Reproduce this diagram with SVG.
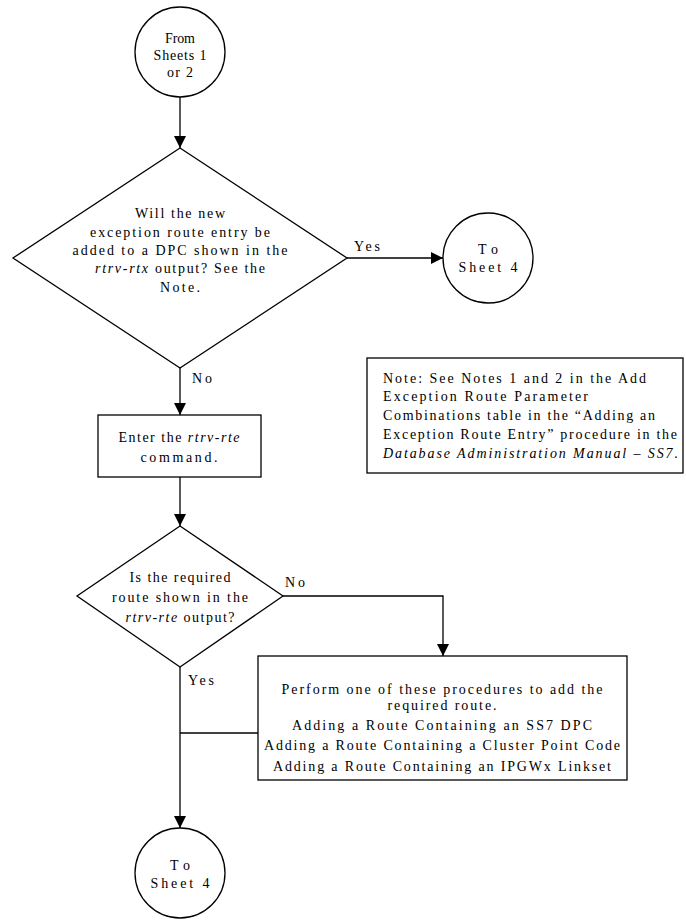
<svg xmlns="http://www.w3.org/2000/svg" width="686" height="920" viewBox="0 0 686 920">
<style>
.s{fill:#fff;stroke:#000;stroke-width:1.3}
.c{fill:none;stroke:#000;stroke-width:1.3}
text{font-family:"Liberation Serif","Times New Roman",serif;font-size:14px;fill:#000}
.m{text-anchor:middle}
.i{font-style:italic}
</style>
<defs>
<marker id="a" markerWidth="12" markerHeight="12" viewBox="0 0 12 12" refX="12" refY="6" orient="auto" markerUnits="userSpaceOnUse">
<path d="M0,0 L12,6 L0,12 z" fill="#000"/>
</marker>
</defs>
<rect width="686" height="920" fill="#fff"/>
<g id="connectors">
<line class="c" x1="180" y1="97" x2="180" y2="148" marker-end="url(#a)"/>
<line class="c" x1="347" y1="258" x2="443" y2="258" marker-end="url(#a)"/>
<line class="c" x1="180" y1="368" x2="180" y2="415" marker-end="url(#a)"/>
<line class="c" x1="180" y1="477" x2="180" y2="526" marker-end="url(#a)"/>
<polyline class="c" points="283,596 443,596 443,656" marker-end="url(#a)"/>
<line class="c" x1="180" y1="667" x2="180" y2="828" marker-end="url(#a)"/>
<line class="c" x1="180" y1="733" x2="258" y2="733"/>
<text x="354" y="251" textLength="26" lengthAdjust="spacing">Yes</text>
<text x="192" y="383" textLength="20" lengthAdjust="spacing">No</text>
<text x="285" y="587" textLength="20" lengthAdjust="spacing">No</text>
<text x="188" y="685" textLength="26" lengthAdjust="spacing">Yes</text>
</g>
<g id="start">
<circle class="s" cx="180" cy="52" r="45"/>
<text class="m" x="180" y="43" textLength="30" lengthAdjust="spacing">From</text>
<text class="m" x="180" y="60" textLength="53" lengthAdjust="spacing">Sheets 1</text>
<text class="m" x="180" y="77" textLength="26" lengthAdjust="spacing">or 2</text>
</g>
<g id="decision1">
<polygon class="s" points="180,148 347,258 180,368 13,258"/>
<text class="m" x="180" y="218" textLength="90" lengthAdjust="spacing">Will the new</text>
<text class="m" x="180" y="237" textLength="180" lengthAdjust="spacing">exception route entry be</text>
<text class="m" x="180" y="255" textLength="215" lengthAdjust="spacing">added to a DPC shown in the</text>
<text class="m" x="180" y="273" textLength="170" lengthAdjust="spacing"><tspan class="i">rtrv-rtx</tspan> output? See the</text>
<text class="m" x="180" y="292" textLength="40" lengthAdjust="spacing">Note.</text>
</g>
<g id="sheet4a">
<circle class="s" cx="488" cy="258" r="45"/>
<text class="m" x="488" y="254" textLength="20" lengthAdjust="spacing">To</text>
<text class="m" x="488" y="272" textLength="59" lengthAdjust="spacing">Sheet 4</text>
</g>
<g id="note">
<rect class="s" x="367" y="358" width="316" height="115"/>
<text x="383" y="383" textLength="263" lengthAdjust="spacing">Note: See Notes 1 and 2 in the Add</text>
<text x="383" y="401" textLength="205" lengthAdjust="spacing">Exception Route Parameter</text>
<text x="383" y="420" textLength="272" lengthAdjust="spacing">Combinations table in the “Adding an</text>
<text x="383" y="439" textLength="294" lengthAdjust="spacing">Exception Route Entry” procedure in the</text>
<text x="383" y="458" class="i" textLength="295" lengthAdjust="spacing">Database Administration Manual – SS7.</text>
</g>
<g id="enter">
<rect class="s" x="98" y="415" width="163" height="62"/>
<text class="m" x="179" y="442" textLength="121" lengthAdjust="spacing">Enter the <tspan class="i">rtrv-rte</tspan></text>
<text class="m" x="179" y="462" textLength="77" lengthAdjust="spacing">command.</text>
</g>
<g id="decision2">
<polygon class="s" points="180,526 283,596 180,667 77,596"/>
<text class="m" x="180" y="582" textLength="101" lengthAdjust="spacing">Is the required</text>
<text class="m" x="180" y="602" textLength="136" lengthAdjust="spacing">route shown in the</text>
<text class="m" x="180" y="622" textLength="109" lengthAdjust="spacing"><tspan class="i">rtrv-rte</tspan> output?</text>
</g>
<g id="perform">
<rect class="s" x="258" y="656" width="369" height="124"/>
<text class="m" x="442" y="694" textLength="321" lengthAdjust="spacing">Perform one of these procedures to add the</text>
<text class="m" x="442" y="710" textLength="109" lengthAdjust="spacing">required route.</text>
<text class="m" x="442" y="730" textLength="300" lengthAdjust="spacing">Adding a Route Containing an SS7 DPC</text>
<text class="m" x="442" y="750" textLength="356" lengthAdjust="spacing">Adding a Route Containing a Cluster Point Code</text>
<text class="m" x="442" y="771" textLength="338" lengthAdjust="spacing">Adding a Route Containing an IPGWx Linkset</text>
</g>
<g id="sheet4b">
<circle class="s" cx="180" cy="873" r="45"/>
<text class="m" x="180" y="870" textLength="20" lengthAdjust="spacing">To</text>
<text class="m" x="180" y="888" textLength="59" lengthAdjust="spacing">Sheet 4</text>
</g>
</svg>
